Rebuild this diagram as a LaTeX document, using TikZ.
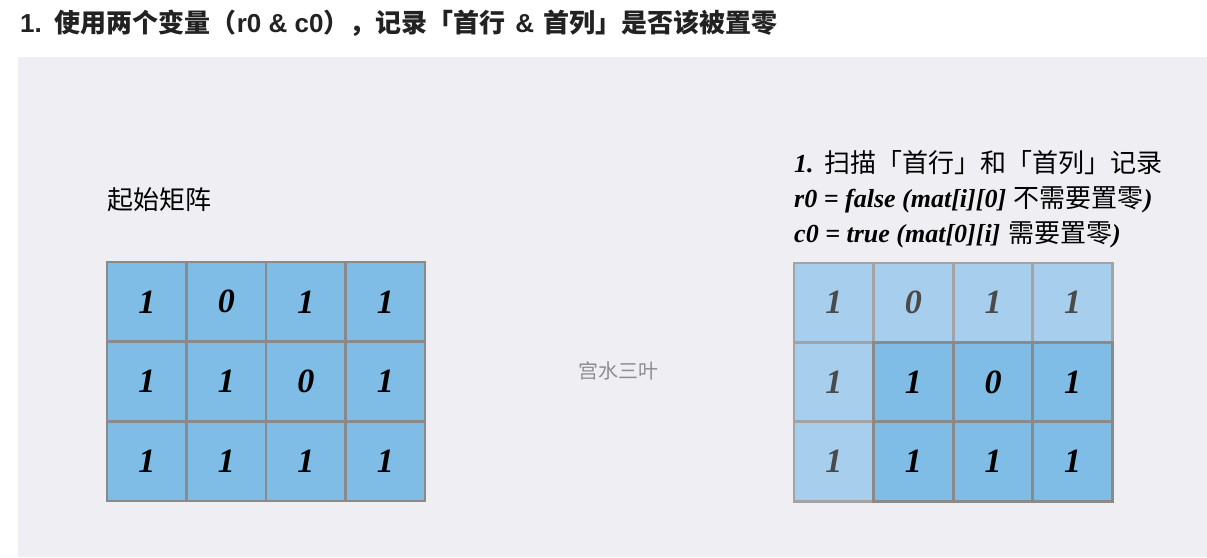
\documentclass[tikz,border=0pt]{standalone}
\usepackage{fontspec}
\newfontfamily\cjk{Noto Sans CJK SC}
\newfontfamily\tnr{Liberation Serif}
\newfontfamily\lsans{Liberation Sans}
\definecolor{panel}{HTML}{EFEEF3}
\definecolor{cellblue}{HTML}{7FBDE6}
\definecolor{liteblue}{HTML}{A7CEEC}
\definecolor{gridgray}{HTML}{8A8A8A}
\definecolor{litegray}{HTML}{A3A3A3}
\definecolor{wmgray}{HTML}{8E8E8E}
\definecolor{numgray}{HTML}{4A4A4A}
\definecolor{titlecol}{HTML}{222222}
\tikzset{
  cell/.style={draw=gridgray, fill=cellblue, line width=2.6pt, minimum width=79.5pt, minimum height=79.7pt, inner sep=0pt, text=black,
    font=\tnr\bfseries\itshape\fontsize{34}{40}\selectfont},
  litecell/.style={cell, draw=litegray, fill=liteblue, text=numgray},
  darkcell/.style={cell},
  lbl/.style={anchor=base west, inner sep=0pt, font=\fontsize{26}{30}\selectfont},
}
\begin{document}
\begin{tikzpicture}[x=1pt,y=-1pt]
\useasboundingbox (0,0) rectangle (1207,557);
\fill[white] (0,0) rectangle (1207,557);
\fill[panel] (18,57) rectangle (1207,557);
\node[anchor=base west, inner sep=0pt, text=titlecol, font=\bfseries\fontsize{26}{30}\selectfont] (title) at (20,32)
  {{\lsans 1.} {\cjk 使用两个变量（}{\lsans r0 \& c0}{\cjk ），记录「首行} {\lsans \&} {\cjk 首列」是否该被置零}};
\node[lbl] (start) at (107,209) {\cjk 起始矩阵};
\node[lbl] (l1) at (794,172) {{\tnr\bfseries\itshape 1.} {\cjk 扫描「首行」和「首列」记录}};
\node[lbl] (l2) at (794,207) {{\tnr\bfseries\itshape r0 = false (mat[i][0]} {\cjk 不需要置零}{\tnr\bfseries\itshape )}};
\node[lbl] (l3) at (794,242) {{\tnr\bfseries\itshape c0 = true (mat[0][i]} {\cjk 需要置零}{\tnr\bfseries\itshape )}};
\node[inner sep=0pt, text=wmgray, font=\cjk\fontsize{20}{24}\selectfont] (wm) at (618,371) {宫水三叶};
\foreach \v [count=\i from 0] in {1,0,1,1,1,1,0,1,1,1,1,1} {
  \pgfmathtruncatemacro\r{int(\i/4)}
  \pgfmathtruncatemacro\c{mod(\i,4)}
  \node[cell] (L-\r-\c) at ({107+79.5*\c+39.75},{262+79.7*\r+39.85}) {\v};
}
\foreach \v [count=\i from 0] in {1,0,1,1,1,1,0,1,1,1,1,1} {
  \pgfmathtruncatemacro\r{int(\i/4)}
  \pgfmathtruncatemacro\c{mod(\i,4)}
  \ifnum\r=0 \def\st{litecell}\else\ifnum\c=0 \def\st{litecell}\else\def\st{darkcell}\fi\fi
  \node[\st] (R-\r-\c) at ({794+79.6*\c+39.8},{263+79.4*\r+39.7}) {\v};
}
\end{tikzpicture}
\end{document}
